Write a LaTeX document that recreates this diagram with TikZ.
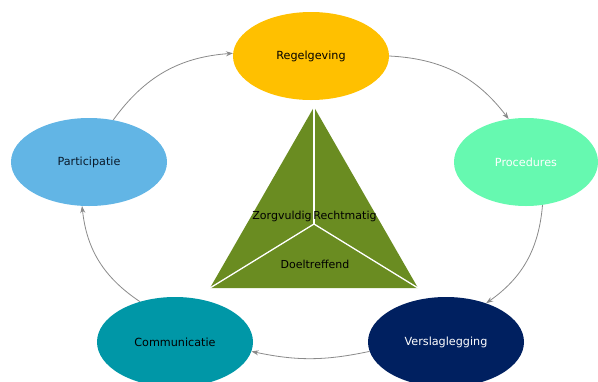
\documentclass[tikz,border=0pt]{standalone}
\usepackage{fontspec}
\setmainfont{DejaVu Sans}
\usetikzlibrary{shapes.geometric,arrows.meta}
\definecolor{cReg}{HTML}{FFC000}
\definecolor{cProc}{HTML}{66F9B0}
\definecolor{cPart}{HTML}{62B5E5}
\definecolor{cVers}{HTML}{002060}
\definecolor{cComm}{HTML}{0097A7}
\definecolor{cTri}{HTML}{6A8C21}
\definecolor{cArr}{HTML}{8A8A8A}
\definecolor{cDark}{HTML}{0A1A2A}
\tikzset{
  blob/.style={ellipse, inner sep=0pt, minimum width=156pt, minimum height=88pt, font=\fontsize{11.2}{13}\selectfont},
  cyc/.style={draw=cArr, line width=0.8pt, -{Stealth[length=7pt,width=5pt]}, bend left=#1},
  tritext/.style={inner sep=0pt, font=\fontsize{11}{13}\selectfont, text=black},
  split/.style={draw=white, line width=1.3pt}
}
\begin{document}
\begin{tikzpicture}[x=1pt,y=-1pt]
\useasboundingbox (0,0) rectangle (598,381);
% triangle
\coordinate (apex) at (314,107);
\coordinate (bl) at (210,288);
\coordinate (br) at (418,288);
\coordinate (mid) at (314,224);
\fill[cTri] (apex) -- (bl) -- (br) -- cycle;
\draw[split] (mid) -- (apex);
\draw[split] (mid) -- (bl);
\draw[split] (mid) -- (br);
\node[tritext] (zorg) at (282,216) {Zorgvuldig};
\node[tritext] (recht) at (345,216) {Rechtmatig};
\node[tritext] (doel) at (315,264) {Doeltreffend};
% ellipses
\node[blob, fill=cReg, text=black] (reg) at (311,56) {Regelgeving};
\node[blob, fill=cProc, text=white, minimum width=144pt] (proc) at (526,162) {Procedures};
\node[blob, fill=cPart, text=cDark] (part) at (89,162) {Participatie};
\node[blob, fill=cVers, text=white, minimum height=90pt] (vers) at (446,342) {Verslaglegging};
\node[blob, fill=cComm, text=black, minimum height=90pt] (comm) at (175,342) {Communicatie};
% cycle arrows
\draw[cyc=25] (part.60) to (reg.178);
\draw[cyc=25] (reg.east) to (proc.112);
\draw[cyc=25] (proc.-69) to (vers.44);
\draw[cyc=12] (vers.187) to (comm.-7);
\draw[cyc=25] (comm.131) to (part.261);
\end{tikzpicture}
\end{document}
